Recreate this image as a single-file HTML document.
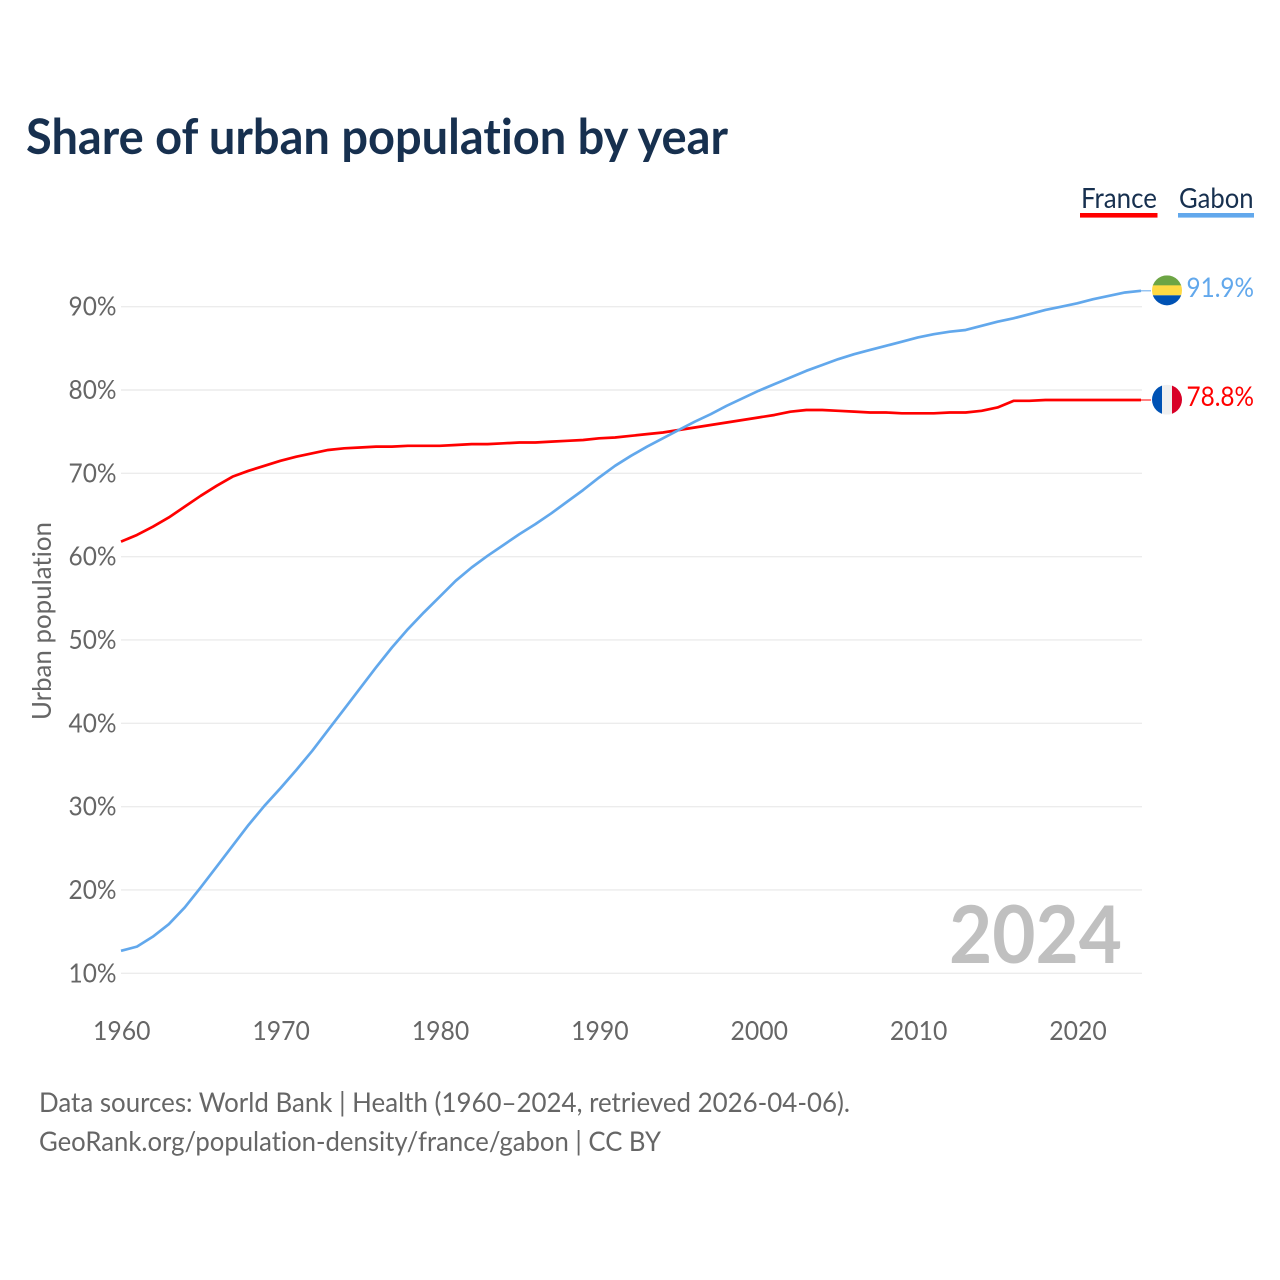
<!DOCTYPE html>
<html lang="en">
<head>
<meta charset="utf-8">
<title>Share of urban population by year</title>
<style>
html,body{margin:0;padding:0;background:#fff}
svg{display:block}
text{font-family:"Lato","Carlito","Liberation Sans",sans-serif;font-variant-ligatures:none}
</style>
</head>
<body>
<svg id="chart" xmlns="http://www.w3.org/2000/svg" width="1280" height="1280" viewBox="0 0 1280 1280">
  <rect width="1280" height="1280" fill="#fff"/>
  <text x="26" y="154" font-size="48.5" font-weight="700" fill="#17304f" textLength="702" lengthAdjust="spacingAndGlyphs">Share of urban population by year</text>

  <g>
    <g>
      <text x="1081" y="208" font-size="28.5" fill="#17304f" textLength="76" lengthAdjust="spacingAndGlyphs">France</text>
      <rect x="1080" y="213" width="77.5" height="4.6" fill="#ff0000"/>
    </g>
    <g>
      <text x="1179" y="208" font-size="28.5" fill="#17304f" textLength="74.5" lengthAdjust="spacingAndGlyphs">Gabon</text>
      <rect x="1178" y="213" width="76" height="4.6" fill="#62a8ec"/>
    </g>
  </g>

  <g id="grid"></g>
  <g id="ytick-labels"></g>
  <g id="xtick-labels"></g>

  <text transform="translate(51 621) rotate(-90)" text-anchor="middle" font-size="26" fill="#666" textLength="198" lengthAdjust="spacingAndGlyphs">Urban population</text>

  <text x="949" y="963" font-size="80" font-weight="700" fill="#c0c0c0" textLength="173" lengthAdjust="spacingAndGlyphs">2024</text>

  <g id="series"></g>

  <defs>
    <clipPath id="flag-clip-gabon"><circle id="clip-gabon" r="15"/></clipPath>
    <clipPath id="flag-clip-france"><circle id="clip-france" r="15"/></clipPath>
  </defs>
  <g id="flag-gabon" clip-path="url(#flag-clip-gabon)">
    <rect id="gabon-green" width="30" height="10.5" fill="#6da544"/>
    <rect id="gabon-yellow" width="30" height="10" fill="#ffda44"/>
    <rect id="gabon-blue" width="30" height="10.5" fill="#0052b4"/>
  </g>
  <g id="flag-france" clip-path="url(#flag-clip-france)">
    <rect id="france-blue" width="10" height="30" fill="#0052b4"/>
    <rect id="france-white" width="10" height="30" fill="#f0f0f0"/>
    <rect id="france-red" width="10" height="30" fill="#d80027"/>
  </g>
  <g id="end-labels"></g>

  <g>
    <text x="39" y="1112" font-size="27.5" fill="#666" textLength="811" lengthAdjust="spacingAndGlyphs">Data sources: World Bank | Health (1960–2024, retrieved 2026-04-06).</text>
    <text x="39" y="1151" font-size="27.5" fill="#666" textLength="622" lengthAdjust="spacingAndGlyphs">GeoRank.org/population-density/france/gabon | CC BY</text>
  </g>
</svg>
<script>
const years = [1960,1961,1962,1963,1964,1965,1966,1967,1968,1969,1970,1971,1972,1973,1974,1975,1976,1977,1978,1979,1980,1981,1982,1983,1984,1985,1986,1987,1988,1989,1990,1991,1992,1993,1994,1995,1996,1997,1998,1999,2000,2001,2002,2003,2004,2005,2006,2007,2008,2009,2010,2011,2012,2013,2014,2015,2016,2017,2018,2019,2020,2021,2022,2023,2024];
const franceValues = [61.8,62.6,63.6,64.7,66.0,67.3,68.5,69.6,70.3,70.9,71.5,72.0,72.4,72.8,73.0,73.1,73.2,73.2,73.3,73.3,73.3,73.4,73.5,73.5,73.6,73.7,73.7,73.8,73.9,74.0,74.2,74.3,74.5,74.7,74.9,75.2,75.5,75.8,76.1,76.4,76.7,77.0,77.4,77.6,77.6,77.5,77.4,77.3,77.3,77.2,77.2,77.2,77.3,77.3,77.5,77.9,78.7,78.7,78.8,78.8,78.8,78.8,78.8,78.8,78.8];
const gabonValues = [12.7,13.2,14.4,15.9,17.9,20.3,22.8,25.3,27.8,30.1,32.2,34.4,36.7,39.2,41.7,44.2,46.7,49.1,51.3,53.3,55.2,57.1,58.7,60.1,61.4,62.7,63.9,65.2,66.6,68.0,69.5,70.9,72.1,73.2,74.2,75.2,76.2,77.1,78.1,79.0,79.9,80.7,81.5,82.3,83.0,83.7,84.3,84.8,85.3,85.8,86.3,86.7,87.0,87.2,87.7,88.2,88.6,89.1,89.6,90.0,90.4,90.9,91.3,91.7,91.9];
const yTicks = [10,20,30,40,50,60,70,80,90];
const xTicks = [1960,1970,1980,1990,2000,2010,2020];

const NS = 'http://www.w3.org/2000/svg';
const xScale = function (year) { return 121 + (year - 1960) * (1141 - 121) / 64; };
const yScale = function (value) { return 973.3 - (value - 10) * 8.333; };
const make = function (parent, tag) {
  const el = document.createElementNS(NS, tag);
  parent.appendChild(el);
  return el;
};

const gridGroup = document.getElementById('grid');
const yLabelGroup = document.getElementById('ytick-labels');
yTicks.forEach(function (tick) {
  const line = make(gridGroup, 'line');
  
  
  line.setAttribute('x1', 121);
  line.setAttribute('x2', 1142);
  line.setAttribute('y1', yScale(tick));
  line.setAttribute('y2', yScale(tick));
  line.setAttribute('stroke', '#ececec');
  line.setAttribute('stroke-width', 1.4);
  const label = make(yLabelGroup, 'text');
  
  
  label.setAttribute('x', 68.5);
  label.setAttribute('y', yScale(tick) + 9);
  label.setAttribute('font-size', 26.5);
  label.setAttribute('fill', '#666');
  label.setAttribute('textLength', 48);
  label.setAttribute('lengthAdjust', 'spacingAndGlyphs');
  label.textContent = tick + '%';
});

const xLabelGroup = document.getElementById('xtick-labels');
xTicks.forEach(function (tick) {
  const label = make(xLabelGroup, 'text');
  
  
  label.setAttribute('x', xScale(tick) - 28);
  label.setAttribute('y', 1040);
  label.setAttribute('font-size', 26.5);
  label.setAttribute('fill', '#666');
  label.setAttribute('textLength', 57.5);
  label.setAttribute('lengthAdjust', 'spacingAndGlyphs');
  label.textContent = tick;
});

const seriesGroup = document.getElementById('series');
const linePath = function (values) {
  return values.map(function (v, i) {
    return (i ? 'L' : 'M') + xScale(years[i]).toFixed(2) + ' ' + yScale(v).toFixed(2);
  }).join('');
};

const franceLine = make(seriesGroup, 'path');


franceLine.setAttribute('d', linePath(franceValues));
franceLine.setAttribute('fill', 'none');
franceLine.setAttribute('stroke', '#ff0000');
franceLine.setAttribute('stroke-width', 2.7);
franceLine.setAttribute('stroke-linejoin', 'round');

const gabonLine = make(seriesGroup, 'path');


gabonLine.setAttribute('d', linePath(gabonValues));
gabonLine.setAttribute('fill', 'none');
gabonLine.setAttribute('stroke', '#62a8ec');
gabonLine.setAttribute('stroke-width', 2.7);
gabonLine.setAttribute('stroke-linejoin', 'round');

const lastIndex = years.length - 1;
const endX = xScale(years[lastIndex]);
const franceY = yScale(franceValues[lastIndex]);
const gabonY = yScale(gabonValues[lastIndex]);

const franceLeader = make(seriesGroup, 'line');


franceLeader.setAttribute('x1', endX);
franceLeader.setAttribute('x2', endX + 10);
franceLeader.setAttribute('y1', franceY);
franceLeader.setAttribute('y2', franceY);
franceLeader.setAttribute('stroke', '#ff0000');
franceLeader.setAttribute('stroke-width', 1);

const gabonLeader = make(seriesGroup, 'line');


gabonLeader.setAttribute('x1', endX);
gabonLeader.setAttribute('x2', endX + 10);
gabonLeader.setAttribute('y1', gabonY);
gabonLeader.setAttribute('y2', gabonY);
gabonLeader.setAttribute('stroke', '#62a8ec');
gabonLeader.setAttribute('stroke-width', 1);

const place = function (id, attrs) {
  const el = document.getElementById(id);
  Object.keys(attrs).forEach(function (k) { el.setAttribute(k, attrs[k]); });
};
const flagX = endX + 26;
const gabonFlagY = gabonY - 0.5;
const franceFlagY = franceY - 0.3;
place('clip-gabon', { cx: flagX, cy: gabonFlagY });
place('gabon-green', { x: flagX - 15, y: gabonFlagY - 15 });
place('gabon-yellow', { x: flagX - 15, y: gabonFlagY - 5 });
place('gabon-blue', { x: flagX - 15, y: gabonFlagY + 5 });
place('clip-france', { cx: flagX, cy: franceFlagY });
place('france-blue', { x: flagX - 15, y: franceFlagY - 15 });
place('france-white', { x: flagX - 5, y: franceFlagY - 15 });
place('france-red', { x: flagX + 5, y: franceFlagY - 15 });

const endLabels = document.getElementById('end-labels');
const gabonLabel = make(endLabels, 'text');


gabonLabel.setAttribute('x', 1186.5);
gabonLabel.setAttribute('y', gabonY + 6);
gabonLabel.setAttribute('font-size', 27.5);
gabonLabel.setAttribute('fill', '#62a8ec');
gabonLabel.setAttribute('textLength', 67.5);
gabonLabel.setAttribute('lengthAdjust', 'spacingAndGlyphs');
gabonLabel.textContent = gabonValues[lastIndex].toFixed(1) + '%';

const franceLabel = make(endLabels, 'text');


franceLabel.setAttribute('x', 1186.5);
franceLabel.setAttribute('y', franceY + 6);
franceLabel.setAttribute('font-size', 27.5);
franceLabel.setAttribute('fill', '#ff0000');
franceLabel.setAttribute('textLength', 67.5);
franceLabel.setAttribute('lengthAdjust', 'spacingAndGlyphs');
franceLabel.textContent = franceValues[lastIndex].toFixed(1) + '%';
</script>
</body>
</html>
